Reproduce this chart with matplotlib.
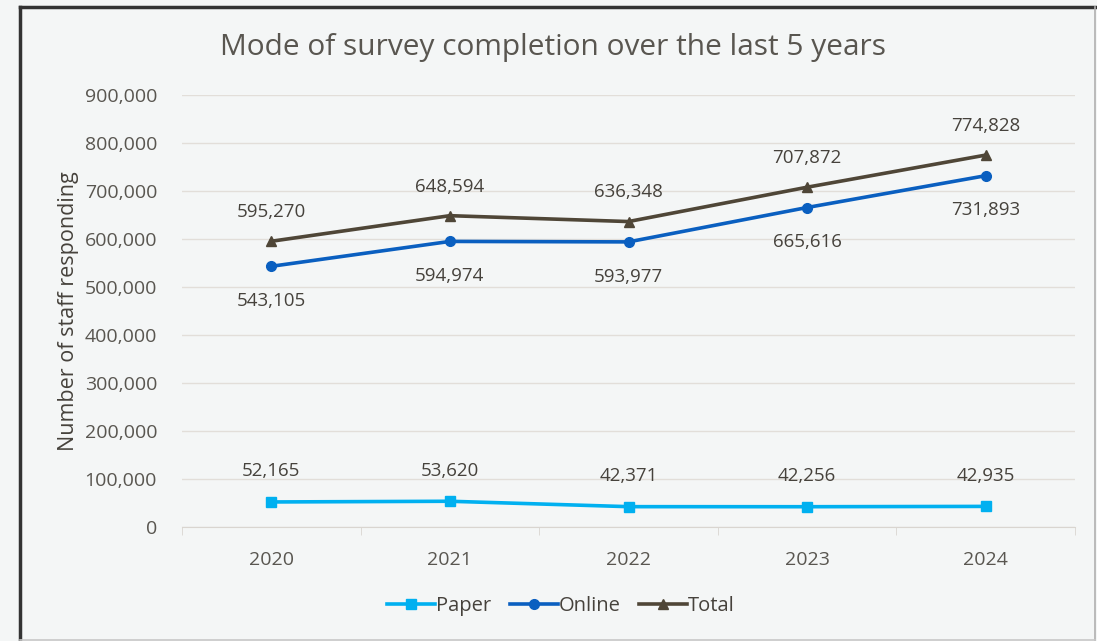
import matplotlib
matplotlib.use('Agg')
import matplotlib.pyplot as plt
from matplotlib.lines import Line2D
from matplotlib.ticker import FuncFormatter

plt.rcParams['font.family'] = ['Open Sans', 'DejaVu Sans']

years = ['2020', '2021', '2022', '2023', '2024']
paper = [52165, 53620, 42371, 42256, 42935]
online = [543105, 594974, 593977, 665616, 731893]
total = [595270, 648594, 636348, 707872, 774828]

bg = '#f4f6f6'
text_col = '#595650'
label_col = '#46423c'

fig = plt.figure(figsize=(10.97, 6.41), dpi=100)
fig.patch.set_facecolor(bg)

# frame around the chart (dark top/left, light right/bottom)
W, H = 1097, 641
fig.add_artist(Line2D([20 / W, 20 / W], [0, 1 - 7 / H], color='#333333', lw=2.5))
fig.add_artist(Line2D([20 / W, 1095 / W], [1 - 7 / H, 1 - 7 / H], color='#333333', lw=2.5))
fig.add_artist(Line2D([1095 / W, 1095 / W], [0, 1 - 7 / H], color='#b0b0b0', lw=1.2))
fig.add_artist(Line2D([20 / W, 1095 / W], [1.5 / H, 1.5 / H], color='#c8c8c8', lw=1.2))

ax = fig.add_axes([182 / W, 1 - 527 / H, (1075 - 182) / W, (527 - 95) / H])
ax.set_facecolor(bg)

x = list(range(len(years)))
ax.plot(x, paper, color='#00b0f0', lw=2.6, marker='s', ms=7, label='Paper', zorder=3)
ax.plot(x, online, color='#0a5fc0', lw=2.6, marker='o', ms=7, label='Online', zorder=3)
ax.plot(x, total, color='#4f4637', lw=2.6, marker='^', ms=7, label='Total', zorder=3)

fmt = lambda v: f'{v:,.0f}'
for i in x:
    ax.annotate(fmt(paper[i]), (i, paper[i]), xytext=(0, 22), textcoords='offset points',
                ha='center', va='center', fontsize=13.5, color=label_col)
    ax.annotate(fmt(online[i]), (i, online[i]), xytext=(0, -25), textcoords='offset points',
                ha='center', va='center', fontsize=13.5, color=label_col)
    ax.annotate(fmt(total[i]), (i, total[i]), xytext=(0, 21), textcoords='offset points',
                ha='center', va='center', fontsize=13.5, color=label_col)

ax.set_xlim(-0.5, len(years) - 0.5)
ax.set_ylim(0, 900000)
ax.set_yticks(range(0, 900001, 100000))
ax.yaxis.set_major_formatter(FuncFormatter(lambda v, p: f'{v:,.0f}'))
ax.set_xticks(x)
ax.set_xticklabels(years)
ax.set_xticks([i - 0.5 for i in range(len(years) + 1)], minor=True)
ax.tick_params(axis='x', which='major', length=0, pad=17, labelsize=14, labelcolor=text_col)
ax.tick_params(axis='x', which='minor', length=6, color='#d9d5d0', direction='out')
ax.tick_params(axis='y', length=0, pad=18, labelsize=14, labelcolor=text_col)

ax.grid(axis='y', color='#e2ded9', lw=1)
ax.set_axisbelow(True)
for s in ['left', 'right', 'top']:
    ax.spines[s].set_visible(False)
ax.spines['bottom'].set_color('#d9d5d0')

ax.set_ylabel('Number of staff responding', fontsize=15.5, color=label_col, labelpad=4)

fig.text(553 / W, 1 - 47 / H, 'Mode of survey completion over the last 5 years',
         ha='center', va='center', fontsize=21.5, color=text_col)

handles, labels = ax.get_legend_handles_labels()
fig.legend(handles, labels, loc='center', bbox_to_anchor=(561 / W, 1 - 606 / H), ncol=3,
           frameon=False, fontsize=14.5, handlelength=2.4, handletextpad=0.05,
           columnspacing=0.9, labelcolor=label_col)

fig.savefig('out.png', dpi=100, facecolor=bg)
